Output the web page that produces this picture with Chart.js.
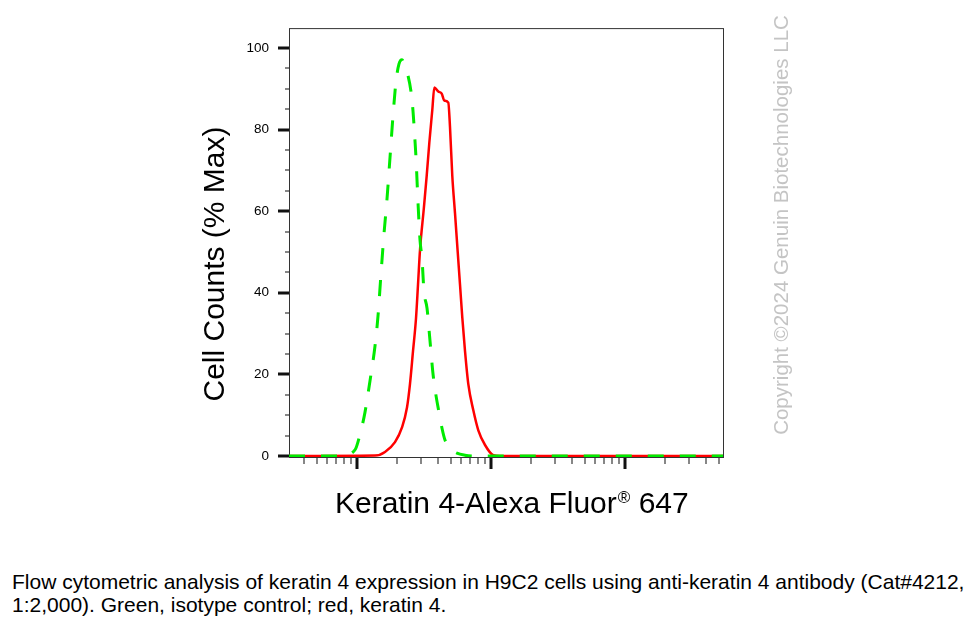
<!DOCTYPE html>
<html>
<head>
<meta charset="utf-8">
<script src="https://cdn.jsdelivr.net/npm/chart.js@4.4.1/dist/chart.umd.min.js"></script>
<style>
    body { margin: 0; background: #fff; }
    #caption {
        position: absolute;
        left: 12px;
        top: 570px;
        font: 21px "Liberation Sans", Arial, sans-serif;
        line-height: 23px;
        color: #000;
        white-space: nowrap;
    }
</style>
</head>
<body>
<canvas id="flowChart" width="980" height="540"></canvas>
<div id="caption">Flow cytometric analysis of keratin 4 expression in H9C2 cells using anti-keratin 4 antibody (Cat#4212,<br>1:2,000). Green, isotype control; red, keratin 4.</div>
<script>
// Isotype control (green, dashed)
const isotypeX = [31.1, 75, 96.6, 105.3, 114.7, 125.0, 136.2, 143.4, 151.1, 159.0, 167.4, 176.3, 185.6, 195.4, 205.8, 216.7, 228.2, 240.3, 252.9, 261.8, 270.9, 275.6, 285.3, 295.3, 305.6, 316.2, 333.1, 350.6, 369.2, 388.7, 409.2, 430.8, 453.6, 494.3, 557.5, 639.7, 759.7, 53800];
const isotypeY = [0, 0, 1.5, 5.3, 10.7, 18.4, 26.9, 34.2, 44.7, 54.4, 62.9, 73.1, 83.3, 91.7, 96.1, 97.1, 95.4, 93.2, 89.3, 84.5, 77.2, 73.1, 62.1, 52.9, 48.3, 40.3, 36.2, 28.2, 20.1, 14.8, 10.7, 6.8, 3.9, 1.9, 0.7, 0.2, 0, 0];

// Keratin 4 (red, solid)
const keratinX = [31.1, 136.2, 161.8, 192.1, 216.7, 236.1, 248.6, 261.8, 275.6, 285.3, 295.3, 314.7, 331.3, 346.4, 364.7, 377.5, 404.3, 428.6, 448.2, 480.0, 494.3, 514.2, 538.6, 564.2, 587.0, 610.6, 639.7, 677.0, 737.9, 803.9, 902.1, 1040.4, 1167, 53800];
const keratinY = [0, 0.1, 1.0, 3.4, 7.0, 11.9, 17.7, 25.7, 33.7, 42.0, 50.5, 60.4, 68.7, 76.7, 84.8, 90.3, 89.3, 88.8, 87.1, 86.6, 80.6, 68.6, 59.5, 50.0, 42.0, 33.9, 25.7, 17.6, 11.2, 6.3, 2.7, 0.2, 0, 0];

const yTickValues = [0, 20, 40, 60, 80, 100];
const yMinorTicks = [5, 10, 15, 25, 30, 35, 45, 50, 55, 65, 70, 75, 85, 90, 95];
const xDecades = [10, 100, 1000, 10000];
const xMultipliers = [1, 2, 3, 4, 5, 6, 7, 8, 9];

const yTitle = 'Cell Counts (% Max)';
const xTitle = 'Keratin 4-Alexa Fluor';
const xTitleMark = '\u00AE';
const xTitleEnd = ' 647';
const copyright = 'Copyright \u00A92024 Genuin Biotechnologies LLC';

const fontFamily = '"Liberation Sans", Arial, sans-serif';

function toPoints(xs, ys) {
    return xs.map((x, i) => ({x: x, y: ys[i]}));
}

const frame = {
    id: 'frame',
    beforeDatasetsDraw(chart) {
        const ctx = chart.ctx;
        const a = chart.chartArea;
        ctx.save();
        ctx.strokeStyle = '#333';
        ctx.lineWidth = 1;
        ctx.strokeRect(a.left + 0.5, a.top + 0.5, a.right - a.left, a.bottom - a.top);
        ctx.restore();
    }
};

const decorations = {
    id: 'decorations',
    afterDraw(chart) {
        const ctx = chart.ctx;
        const a = chart.chartArea;
        const xs = chart.scales.x;
        const ys = chart.scales.y;
        ctx.save();
        ctx.fillStyle = '#111';

        // y ticks
        yTickValues.forEach(v => {
            const y = ys.getPixelForValue(v);
            ctx.fillRect(a.left - 11, Math.round(y) - 1.5, 11, 3);
        });
        yMinorTicks.forEach(v => {
            const y = ys.getPixelForValue(v);
            ctx.fillRect(a.left - 4, Math.round(y) - 0.5, 4, 1);
        });

        // x ticks (log decades)
        xDecades.forEach(d => {
            xMultipliers.forEach(m => {
                const v = d * m;
                if (v < xs.min || v > xs.max) return;
                const x = Math.round(xs.getPixelForValue(v));
                if (m === 1) {
                    ctx.fillRect(x - 1.5, a.bottom + 1, 3, 11);
                } else {
                    ctx.fillRect(x - 0.5, a.bottom + 1, 1, 6);
                }
            });
        });

        ctx.fillStyle = '#000';

        // y title
        ctx.save();
        ctx.translate(224, 264);
        ctx.rotate(-Math.PI / 2);
        ctx.font = '30px ' + fontFamily;
        ctx.textAlign = 'center';
        ctx.textBaseline = 'alphabetic';
        ctx.fillText(yTitle, 0, 0);
        ctx.restore();

        // x title with superscript mark
        let tx = 335;
        const ty = 513;
        ctx.textAlign = 'left';
        ctx.textBaseline = 'alphabetic';
        ctx.font = '30px ' + fontFamily;
        ctx.fillText(xTitle, tx, ty);
        tx += ctx.measureText(xTitle).width + 1;
        ctx.font = '17px ' + fontFamily;
        ctx.fillText(xTitleMark, tx, ty - 10);
        tx += ctx.measureText(xTitleMark).width;
        ctx.font = '30px ' + fontFamily;
        ctx.fillText(xTitleEnd, tx, ty);

        // copyright
        ctx.save();
        ctx.translate(788, 225);
        ctx.rotate(-Math.PI / 2);
        ctx.font = '20.5px ' + fontFamily;
        ctx.fillStyle = '#c4c4c4';
        ctx.textAlign = 'center';
        ctx.fillText(copyright, 0, 0);
        ctx.restore();

        ctx.restore();
    }
};

new Chart(document.getElementById('flowChart'), {
    type: 'line',
    data: {
        datasets: [
            {
                label: 'Isotype control',
                data: toPoints(isotypeX, isotypeY),
                borderColor: 'rgb(0, 235, 0)',
                borderWidth: 3,
                borderDash: [16, 16],
                pointRadius: 0,
                cubicInterpolationMode: 'monotone',
                fill: false
            },
            {
                label: 'Keratin 4',
                data: toPoints(keratinX, keratinY),
                borderColor: 'rgb(255, 0, 0)',
                borderWidth: 2.5,
                pointRadius: 0,
                cubicInterpolationMode: 'monotone',
                fill: false
            }
        ]
    },
    options: {
        responsive: false,
        animation: false,
        layout: {
            padding: {left: 200, right: 257, top: 24, bottom: 0}
        },
        plugins: {
            legend: {display: false},
            tooltip: {enabled: false}
        },
        scales: {
            x: {
                type: 'logarithmic',
                min: 31.1,
                max: 53800,
                grid: {display: false, drawTicks: false},
                border: {display: false},
                ticks: {display: false},
                afterFit: scale => { scale.height = 83; }
            },
            y: {
                min: -0.24,
                max: 104.85,
                grid: {display: false, drawTicks: false},
                border: {display: false},
                ticks: {
                    padding: 20,
                    color: '#000',
                    autoSkip: false,
                    font: {family: fontFamily, size: 13.5}
                },
                afterBuildTicks: scale => {
                    scale.ticks = yTickValues.map(v => ({value: v}));
                },
                afterFit: scale => { scale.width = 89; }
            }
        }
    },
    plugins: [frame, decorations]
});
</script>
</body>
</html>
